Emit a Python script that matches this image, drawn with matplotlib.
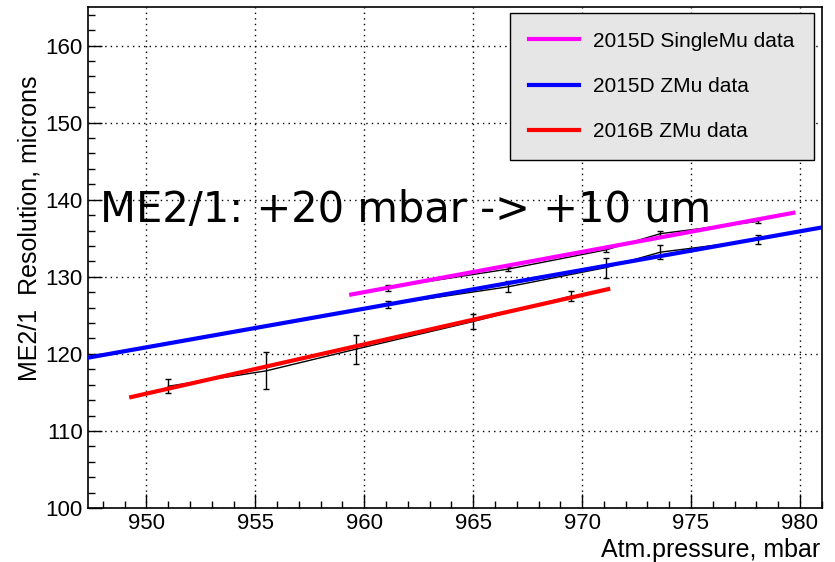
import matplotlib
matplotlib.use("Agg")
import matplotlib.pyplot as plt
from matplotlib.ticker import MultipleLocator

plt.rcParams["font.family"] = ["Liberation Sans", "DejaVu Sans"]

# Measured points (black line + error bars)
p_2016b = [951.0, 955.5, 959.6, 965.0, 969.5]
r_2016b = [115.8, 117.8, 120.6, 124.2, 127.5]
e_2016b = [0.9, 2.4, 1.9, 1.0, 0.6]

p_2015d_z = [961.1, 966.6, 971.1, 973.6, 978.1]
r_2015d_z = [126.4, 128.7, 131.2, 133.2, 134.8]
e_2015d_z = [0.5, 0.7, 1.3, 0.9, 0.6]

p_2015d_s = [961.1, 966.6, 971.1, 973.6, 978.1]
r_2015d_s = [128.6, 131.0, 133.5, 135.6, 137.2]
e_2015d_s = [0.4, 0.3, 0.3, 0.3, 0.2]

# Linear fit end points
fit_s_x, fit_s_y = [959.4, 979.7], [127.7, 138.3]
fit_z_x, fit_z_y = [947.3, 981.0], [119.5, 136.4]
fit_b_x, fit_b_y = [949.3, 971.2], [114.4, 128.4]

fig = plt.figure(figsize=(8.35, 5.62), dpi=100)
ax = fig.add_axes([0.105, 0.096, 0.879, 0.8915])

# data with error bars
for px, ry, er in [(p_2016b, r_2016b, e_2016b),
                   (p_2015d_z, r_2015d_z, e_2015d_z),
                   (p_2015d_s, r_2015d_s, e_2015d_s)]:
    ax.errorbar(px, ry, yerr=er, color="black", lw=1.0, elinewidth=1.0,
                capsize=2.5, capthick=1.0, zorder=3)

# fits
ax.plot(fit_s_x, fit_s_y, color="#ff00ff", lw=3, label="2015D SingleMu data", zorder=4)
ax.plot(fit_z_x, fit_z_y, color="#0000ff", lw=3, label="2015D ZMu data", zorder=4)
ax.plot(fit_b_x, fit_b_y, color="#ff0000", lw=3, label="2016B ZMu data", zorder=4)

ax.set_xlim(947.3, 981.0)
ax.set_ylim(100, 165)
ax.xaxis.set_major_locator(MultipleLocator(5))
ax.xaxis.set_minor_locator(MultipleLocator(1))
ax.yaxis.set_major_locator(MultipleLocator(10))
ax.yaxis.set_minor_locator(MultipleLocator(2))
ax.tick_params(which="both", direction="in", top=False, right=False, labelsize=16)
ax.tick_params(which="major", length=10, width=1)
ax.tick_params(which="minor", length=5, width=1)
ax.grid(True, which="major", color="black", linestyle=(0, (1, 3)), lw=1)
for s in ax.spines.values():
    s.set_linewidth(1.2)

ax.text(947.85, 138.7, "ME2/1: +20 mbar -> +10 um", fontsize=30,
        family=["DejaVu Sans"], va="center", ha="left", zorder=5)

leg = ax.legend(loc="upper right", bbox_to_anchor=(0.989, 0.988), fontsize=15,
                frameon=True, fancybox=False, handlelength=2.4, labelspacing=1.25,
                borderpad=0.9, handletextpad=0.7, borderaxespad=0)
leg.get_frame().set_facecolor("#e6e6e6")
leg.get_frame().set_edgecolor("black")
leg.get_frame().set_alpha(1)

fig.text(0.035, 0.594, "ME2/1  Resolution, microns", rotation=90, ha="center",
         va="center", fontsize=18)
fig.text(0.982, 0.0, "Atm.pressure, mbar", ha="right", va="bottom", fontsize=18)

fig.savefig("out.png", dpi=100)
